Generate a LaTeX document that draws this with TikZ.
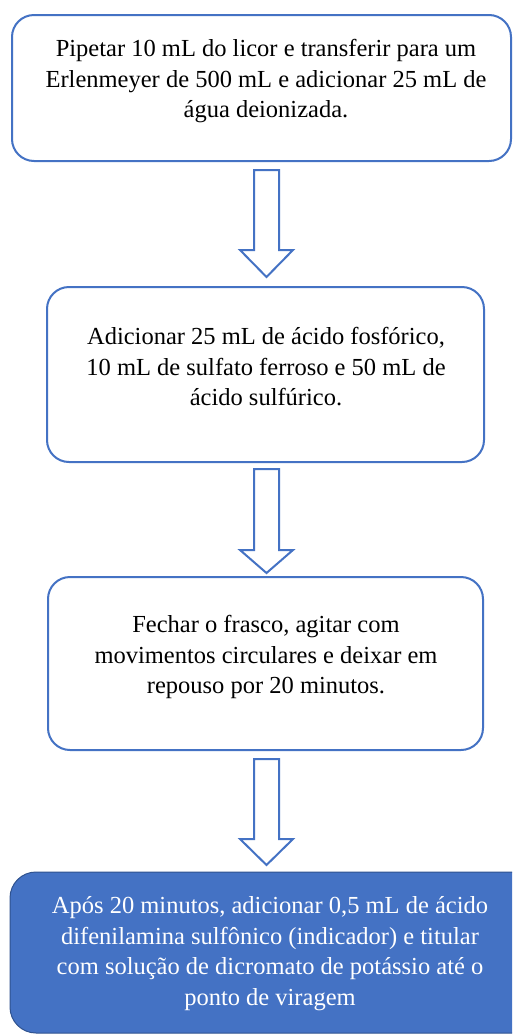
\documentclass[tikz,border=0pt]{standalone}
\usepackage{fontspec}
\setmainfont{Liberation Serif}
\usetikzlibrary{calc}
\definecolor{wblue}{HTML}{4472C4}
\definecolor{wdark}{HTML}{2F528F}
\tikzset{
  stepbox/.style={draw=wblue, line width=2pt, rounded corners=22pt, fill=white, inner sep=0pt},
  finalbox/.style={draw=wdark, line width=1pt, rounded corners=26pt, fill=wblue, inner sep=0pt},
  steptext/.style={align=center, font=\fontsize{24.5}{30.5}\selectfont, text=black, inner sep=0pt},
  finaltext/.style={steptext, text=white},
  blockarrow/.style={draw=wblue, line width=2pt, fill=white, line join=miter},
}
\newcommand\blockarr[4]{% x, top, head, tip
  \draw[blockarrow] (#1-12.5,#2) -- (#1+12.5,#2) -- (#1+12.5,#3) -- (#1+26.5,#3) -- (#1,#4) -- (#1-26.5,#3) -- (#1-12.5,#3) -- cycle;
}
\begin{document}
\begin{tikzpicture}[x=1pt,y=-1pt]
\useasboundingbox (0,0) rectangle (512,1034);
\fill[white] (0,0) rectangle (512,1034);
\clip (0,0) rectangle (512,1034);
% boxes
\node[stepbox, minimum width=499pt, minimum height=146pt] (b1) at (261.5,88) {};
\node[stepbox, minimum width=437pt, minimum height=175pt] (b2) at (265.5,374.5) {};
\node[stepbox, minimum width=435pt, minimum height=173pt] (b3) at (265.5,663.5) {};
\node[finalbox, minimum width=530pt, minimum height=161pt] (b4) at (275,952.5) {};
% texts
\node[steptext] (t1) at (266,81.5) {Pipetar 10 mL do licor e transferir para um\\Erlenmeyer de 500 mL e adicionar 25 mL de\\água deionizada.};
\node[steptext] (t2) at (266,367) {Adicionar 25 mL de ácido fosfórico,\\10 mL de sulfato ferroso e 50 mL de\\ácido sulfúrico.};
\node[steptext] (t3) at (266,657) {Fechar o frasco, agitar com\\movimentos circulares e deixar em\\repouso por 20 minutos.};
\node[finaltext] (t4) at (270,953.5) {Após 20 minutos, adicionar 0,5 mL de ácido\\difenilamina sulfônico (indicador) e titular\\com solução de dicromato de potássio até o\\ponto de viragem};
% arrows
\blockarr{266.5}{170}{250}{277}
\blockarr{266.5}{469}{550}{573}
\blockarr{266.5}{759}{839}{865}
\end{tikzpicture}
\end{document}
